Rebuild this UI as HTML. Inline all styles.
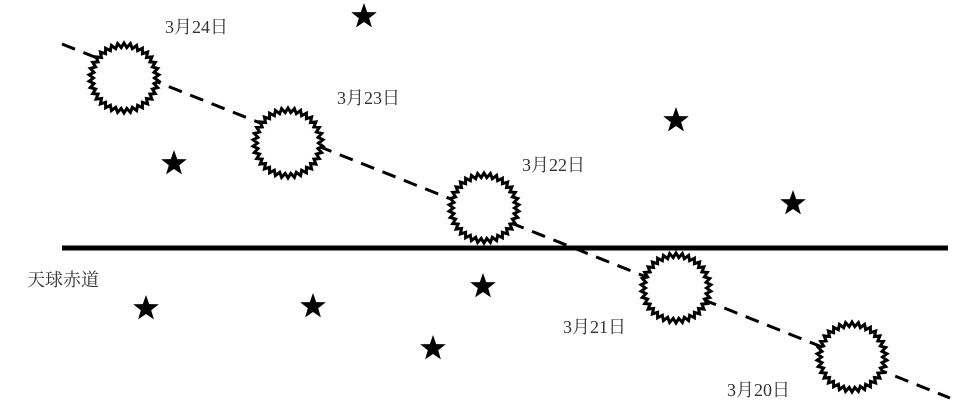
<!DOCTYPE html>
<html><head><meta charset="utf-8"><style>
html,body{margin:0;padding:0;background:#fff;}
svg{display:block}
text{font-family:"Liberation Serif","Noto Serif CJK SC",serif;font-size:18px;fill:#333;}
</style></head><body>
<svg id="s" width="960" height="420" viewBox="0 0 960 420" xmlns="http://www.w3.org/2000/svg">
<line x1="62" y1="44" x2="950" y2="398" stroke="#000" stroke-width="3" stroke-dasharray="14,9"/>
<rect x="62" y="245.5" width="886" height="5" fill="#000"/>
<g id="suns"></g>
<g id="stars"></g>
<text x="165" y="33">3月24日</text>
<text x="337" y="104">3月23日</text>
<text x="522" y="171">3月22日</text>
<text x="563" y="333">3月21日</text>
<text x="727" y="396">3月20日</text>
<text x="27" y="286">天球赤道</text>
</svg>
<script>
var ns="http://www.w3.org/2000/svg";
var suns=[[124,78],[288,143],[484,208],[676,288],[852,357]];
var g=document.getElementById("suns");
suns.forEach(function(c){
  var pts=[],n=34;
  for(var i=0;i<2*n;i++){var a=Math.PI*i/n,r=(i%2)?35:30.5;pts.push((c[0]+r*Math.cos(a)).toFixed(1)+","+(c[1]+r*Math.sin(a)).toFixed(1));}
  var p=document.createElementNS(ns,"polygon");
  p.setAttribute("points",pts.join(" "));
  p.setAttribute("fill","#fff");p.setAttribute("stroke","#000");p.setAttribute("stroke-width","3");
  g.appendChild(p);
});
var stars=[[364,15],[174,162],[676,119],[793,202],[483,285],[146,307],[313,305],[433,347]];
var sg=document.getElementById("stars");
stars.forEach(function(c){
  var pts=[];
  for(var i=0;i<10;i++){var a=-Math.PI/2+Math.PI*i/5,r=(i%2)?5.5:13.5;pts.push((c[0]+r*Math.cos(a)).toFixed(1)+","+(c[1]+1.5+r*Math.sin(a)).toFixed(1));}
  var p=document.createElementNS(ns,"polygon");
  p.setAttribute("points",pts.join(" "));p.setAttribute("fill","#000");
  sg.appendChild(p);
});
</script>
</body></html>
